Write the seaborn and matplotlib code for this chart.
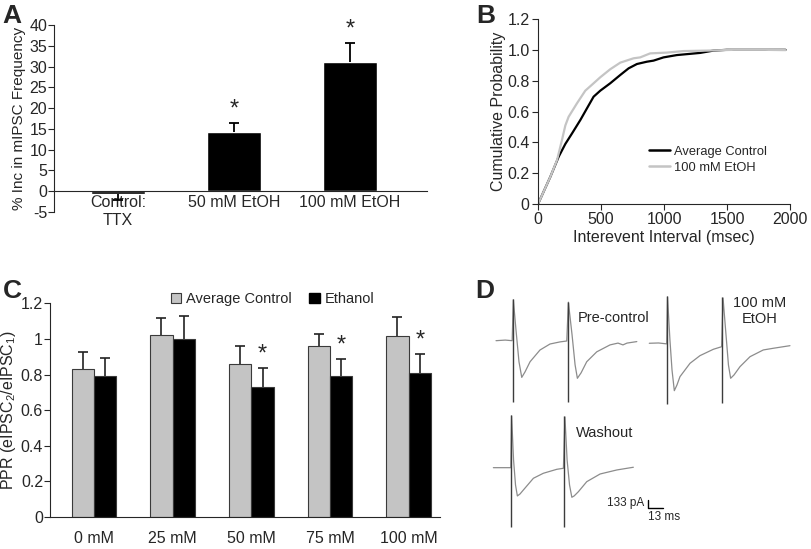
import matplotlib
matplotlib.use('Agg')
import matplotlib.pyplot as plt
from matplotlib.patches import Patch
from matplotlib.lines import Line2D
import seaborn as sns
import pandas as pd

# Panel A: % increase in mIPSC frequency
a_conditions = ["Control:\nTTX", "50 mM EtOH", "100 mM EtOH"]
a_values = [-0.7, 14.2, 31.2]
a_errors = [1.5, 2.3, 4.4]
a_signif = [False, True, True]

# Panel B: cumulative probability of interevent intervals
b_ctrl_ms = [0, 98, 164, 217, 270, 336, 388, 441, 494, 573, 653, 719, 785, 864,
             917, 996, 1102, 1287, 1392, 1498, 1700, 1965]
b_ctrl_p = [0, 0.177, 0.307, 0.39, 0.458, 0.545, 0.62, 0.696, 0.735, 0.783, 0.837,
            0.88, 0.908, 0.923, 0.93, 0.951, 0.966, 0.98, 0.995, 1.0, 1.0, 1.0]
b_etoh_ms = [0, 98, 151, 190, 217, 243, 309, 375, 441, 494, 573, 653, 758, 811,
             890, 1022, 1155, 1340, 1551, 1800, 1965]
b_etoh_p = [0, 0.177, 0.285, 0.415, 0.51, 0.566, 0.653, 0.735, 0.783, 0.822, 0.874,
            0.917, 0.945, 0.951, 0.977, 0.982, 0.992, 0.995, 1.0, 1.0, 0.998]

# Panel C: paired pulse ratio
c_doses = ["0 mM", "25 mM", "50 mM", "75 mM", "100 mM"]
c_ctrl = [0.83, 1.02, 0.86, 0.96, 1.015]
c_ctrl_err = [0.095, 0.096, 0.10, 0.07, 0.11]
c_etoh = [0.795, 1.0, 0.733, 0.795, 0.807]
c_etoh_err = [0.10, 0.13, 0.104, 0.09, 0.107]
c_signif = [False, False, True, True, True]

# Panel D: example eIPSC traces (ms from trace start, pA from baseline)
pre_t = [0, 8, 14, 15, 17.3, 19.9, 22.3, 25.1, 29.5, 38.1, 46.8, 55.5, 61.3, 62.7,
         65.9, 68.5, 70.5, 73.7, 78.6, 87.3, 98.8, 105.7, 110, 113.5, 122]
pre_i = [0, 10, 0, 680, 180, -350, -610, -520, -350, -155, -55, -20, -5, 640,
         95, -400, -625, -535, -350, -185, -70, -40, -70, -40, -15]
pre_art_t = [14.5, 62.7]
pre_art_top = [693, 648]
pre_art_bot = [-1019, -1014]

etoh_t = [0, 8, 15.1, 15.8, 17.9, 19.7, 21.7, 24, 26.6, 35.3, 43.9, 55.5, 62.7,
          63.9, 66.5, 68.6, 70.5, 73.4, 78.6, 87.3, 98.8, 107.5, 121.9]
etoh_i = [0, 5, -10, 770, 55, -444, -788, -693, -555, -333, -206, -100, -57,
          753, 138, -361, -582, -527, -389, -223, -111, -83, -40]
etoh_art_t = [15.1, 63.3]
etoh_art_top = [786, 765]
etoh_art_bot = [-1002, -998]

wash_t = [0, 8, 15.1, 15.8, 17.5, 19.2, 20.8, 23.1, 26, 34.7, 43.3, 55, 60.7,
          62, 63.9, 66, 68, 70, 73.7, 80.9, 92.5, 107, 121.3]
wash_i = [0, 0, 0, 860, 128, -288, -470, -437, -371, -176, -93, -27, -10,
          843, 128, -288, -492, -470, -399, -233, -105, -38, 7]
wash_art_t = [15.1, 61.3]
wash_art_top = [876, 860]
wash_art_bot = [-991, -991]

sns.set_style('ticks')
plt.rcParams['font.family'] = ['Liberation Sans', 'DejaVu Sans']
plt.rcParams['mathtext.fontset'] = 'custom'
plt.rcParams['mathtext.rm'] = 'Liberation Sans'
plt.rcParams['mathtext.it'] = 'Liberation Sans:italic'
plt.rcParams['axes.unicode_minus'] = False

GRAY = '#c4c4c4'
FS = 11.5


def up_error(ax, xc, v, e, color, lw):
    # one-sided error bar pointing away from zero, cap only at the far end
    end = v - e if v < 0 else v + e
    ax.errorbar(xc, v, yerr=[[e], [0]] if v < 0 else [[0], [e]],
                color=color, lw=lw, capsize=0)
    ax.plot(xc, end, marker='_', markersize=7, mew=lw, color=color)
    return end


fig = plt.figure(figsize=(8.12, 5.49), dpi=100)

# ---------------- A ----------------
axA = fig.add_axes([0.0665, 0.6138, 0.459, 0.3406])
dfA = pd.DataFrame({'cond': a_conditions, 'val': a_values})
sns.barplot(data=dfA, x='cond', y='val', color='black', width=0.47,
            errorbar=None, ax=axA, saturation=1)
for bar, v, e, s in zip(list(axA.patches), a_values, a_errors, a_signif):
    xc = bar.get_x() + bar.get_width() / 2
    end = up_error(axA, xc, v, e, 'black', 1.3)
    if s:
        axA.text(xc, end + 0.6, '*', ha='center', va='bottom', fontsize=17)
axA.set_xlim(-0.55, 2.66)
axA.set_ylim(-5, 40)
axA.set_yticks(range(-5, 41, 5))
axA.spines['bottom'].set_position(('data', 0))
axA.spines[['top', 'right']].set_visible(False)
axA.tick_params(axis='x', length=0, pad=3, labelsize=FS)
axA.tick_params(axis='y', length=4, labelsize=FS, pad=1)
axA.set_xlabel('')
axA.set_ylabel('% Inc in mIPSC Frequency', fontsize=11, labelpad=2)
fig.text(0.003, 0.992, 'A', fontsize=19, fontweight='bold', va='top')

# ---------------- B ----------------
axB = fig.add_axes([0.6626, 0.6284, 0.3103, 0.337])
dfB = pd.concat([
    pd.DataFrame({'ms': b_ctrl_ms, 'p': b_ctrl_p, 'grp': 'Average Control'}),
    pd.DataFrame({'ms': b_etoh_ms, 'p': b_etoh_p, 'grp': '100 mM EtOH'}),
])
sns.lineplot(data=dfB, x='ms', y='p', hue='grp', palette=['black', GRAY],
             lw=1.6, ax=axB, legend=False, sort=False)
axB.set_xlim(0, 2000)
axB.set_ylim(0, 1.2)
axB.set_xticks([0, 500, 1000, 1500, 2000])
axB.set_yticks([0, 0.2, 0.4, 0.6, 0.8, 1.0, 1.2])
axB.set_yticklabels(['0', '0.2', '0.4', '0.6', '0.8', '1.0', '1.2'])
axB.spines[['top', 'right']].set_visible(False)
axB.tick_params(length=4, labelsize=FS, pad=2)
axB.set_xlabel('Interevent Interval (msec)', fontsize=FS, labelpad=2)
axB.set_ylabel('Cumulative Probability', fontsize=FS, labelpad=1)
handlesB = [Line2D([], [], color='black', lw=1.8), Line2D([], [], color=GRAY, lw=1.8)]
axB.legend(handlesB, ['Average Control', '100 mM EtOH'], frameon=False,
           fontsize=9.3, loc='lower left', bbox_to_anchor=(0.395, 0.1),
           handlelength=1.6, handletextpad=0.3, labelspacing=0.3)
fig.text(0.587, 0.992, 'B', fontsize=19, fontweight='bold', va='top')

# ---------------- C ----------------
axC = fig.add_axes([0.0616, 0.0583, 0.4803, 0.389])
dfC = pd.concat([
    pd.DataFrame({'dose': c_doses, 'ppr': c_ctrl, 'err': c_ctrl_err, 'grp': 'Average Control'}),
    pd.DataFrame({'dose': c_doses, 'ppr': c_etoh, 'err': c_etoh_err, 'grp': 'Ethanol'}),
])
sns.barplot(data=dfC, x='dose', y='ppr', hue='grp', palette=[GRAY, 'black'],
            width=0.57, errorbar=None, ax=axC, legend=False, saturation=1,
            edgecolor='#3a3a3a', linewidth=0.8)
bars = sorted(list(axC.patches), key=lambda b: b.get_x())
vals = [v for pair in zip(c_ctrl, c_etoh) for v in pair]
errs = [e for pair in zip(c_ctrl_err, c_etoh_err) for e in pair]
sigs = [s for pair in zip([False] * 5, c_signif) for s in pair]
for bar, v, e, s in zip(bars, vals, errs, sigs):
    xc = bar.get_x() + bar.get_width() / 2
    end = up_error(axC, xc, v, e, '#222222', 1.2)
    if s:
        axC.text(xc, end + 0.015, '*', ha='center', va='bottom', fontsize=17)
axC.set_xlim(-0.56, 4.4)
axC.set_ylim(0, 1.2)
axC.set_yticks([0, 0.2, 0.4, 0.6, 0.8, 1.0, 1.2])
axC.set_yticklabels(['0', '0.2', '0.4', '0.6', '0.8', '1', '1.2'])
axC.spines[['top', 'right']].set_visible(False)
axC.tick_params(axis='x', length=0, pad=10, labelsize=FS)
axC.tick_params(axis='y', length=4, labelsize=FS, pad=1)
axC.set_xlabel('')
axC.set_ylabel('PPR (eIPSC$_2$/eIPSC$_1$)', fontsize=FS, labelpad=2)
handlesC = [Patch(facecolor=GRAY, edgecolor='#3a3a3a', lw=0.8),
            Patch(facecolor='black', edgecolor='black')]
axC.legend(handlesC, ['Average Control', 'Ethanol'], frameon=False, ncol=2,
           fontsize=10.5, loc='center', bbox_to_anchor=(0.57, 1.02),
           handlelength=0.75, handleheight=0.75, handletextpad=0.3, columnspacing=1.2)
fig.text(0.003, 0.492, 'C', fontsize=19, fontweight='bold', va='top')

# ---------------- D ----------------
axD = fig.add_axes([0.5911, 0.0, 0.4089, 0.4809])
axD.set_xlim(0, 287.7)
axD.set_ylim(0, 4389)
axD.axis('off')
traces = [
    (pre_t, pre_i, pre_art_t, pre_art_top, pre_art_bot, 13.9, 3463),
    (etoh_t, etoh_i, etoh_art_t, etoh_art_top, etoh_art_bot, 146.7, 3420),
    (wash_t, wash_i, wash_art_t, wash_art_top, wash_art_bot, 11.6, 1352),
]
for t, i, at, atop, abot, t0, base in traces:
    dfD = pd.DataFrame({'t': [x + t0 for x in t], 'i': [y + base for y in i]})
    sns.lineplot(data=dfD, x='t', y='i', color='#8c8c8c', lw=0.9, ax=axD, sort=False)
    axD.vlines([x + t0 for x in at], [y + base for y in abot], [y + base for y in atop],
               color='#3c3c3c', lw=1.0)
axD.set_xlabel('')
axD.set_ylabel('')
axD.text(84.9, 3840, 'Pre-control', fontsize=10.5, va='center', ha='left')
axD.text(242.7, 3957, '100 mM\nEtOH', fontsize=10.5, va='center', ha='center',
         linespacing=1.1)
axD.text(83.2, 1928, 'Washout', fontsize=10.5, va='center', ha='left')
# scale bar
axD.plot([145.6, 145.6, 158.6], [682 + 133, 682, 682], color='black', lw=1.0)
axD.text(142, 760, '133 pA', fontsize=8.5, ha='right', va='center')
axD.text(146, 640, '13 ms', fontsize=8.5, ha='left', va='top')
fig.text(0.585, 0.492, 'D', fontsize=19, fontweight='bold', va='top')

fig.savefig('out.png', dpi=100)
